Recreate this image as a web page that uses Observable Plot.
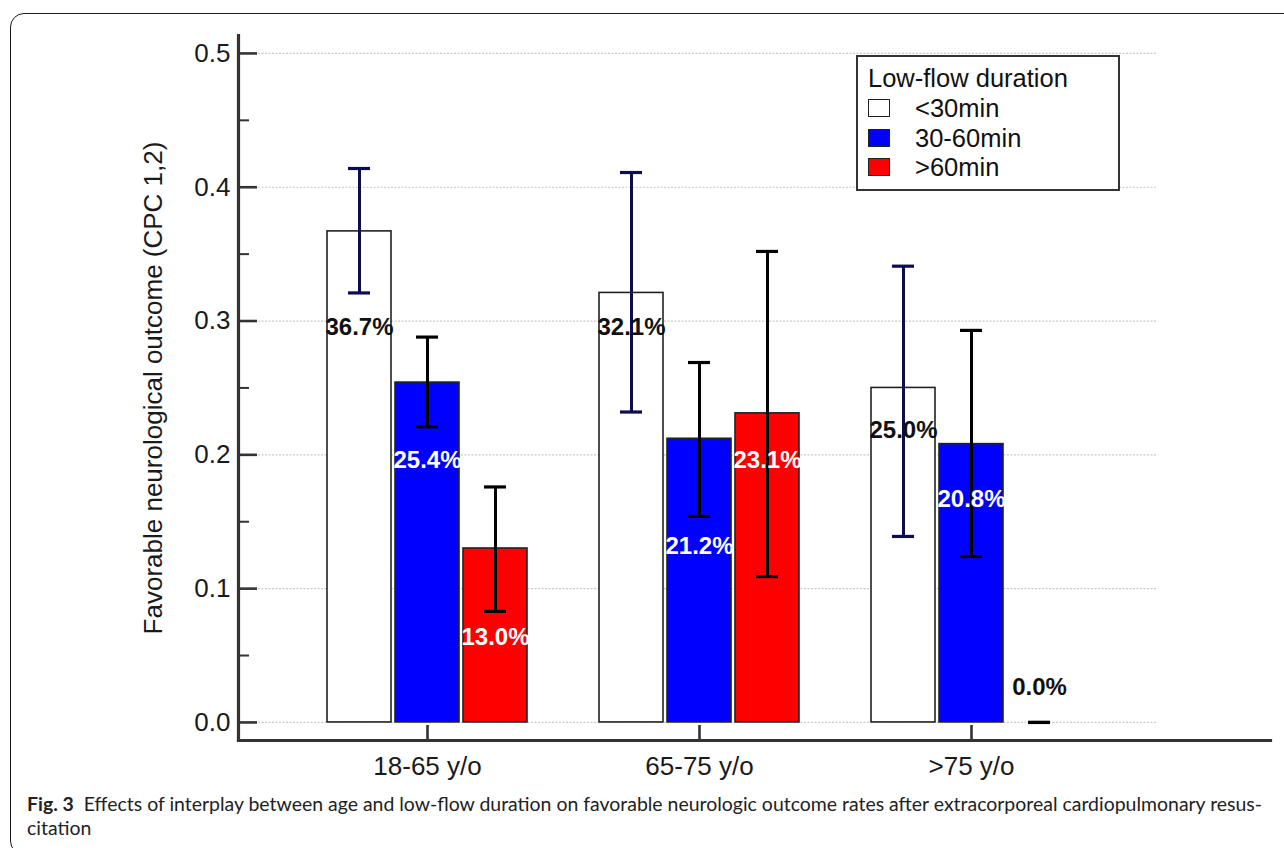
<!DOCTYPE html>
<html><head><meta charset="utf-8">
<script src="https://cdn.jsdelivr.net/npm/d3@7"></script>
<script src="https://cdn.jsdelivr.net/npm/@observablehq/plot@0.6"></script>
<style>
body{margin:0;background:#fff;}
#wrap{position:relative;width:1284px;height:848px;overflow:hidden;font-family:"Liberation Sans",Arial,sans-serif;color:#111;}
#chart{position:absolute;left:0;top:0;}
#frame{position:absolute;left:10px;top:13px;width:1300px;height:842px;border:1.5px solid #1a1a1a;border-radius:14px;box-sizing:border-box;pointer-events:none;}
#legend{position:absolute;left:856px;top:55px;width:264px;height:136px;border:2.5px solid #333;box-sizing:border-box;background:#fff;font-size:25.5px;}
#legend .title{position:absolute;left:10px;top:7px;line-height:28px;white-space:nowrap;}
#legend .row{position:absolute;left:10px;height:20px;white-space:nowrap;}
#legend .sw{position:absolute;left:0;top:0;width:22px;height:18px;border:1.5px solid #222;box-sizing:border-box;}
#legend .lab{position:absolute;left:47px;top:-5px;line-height:28px;}
#caption{position:absolute;left:27px;top:792px;font-family:Lato,"Open Sans",sans-serif;font-size:19.5px;line-height:24px;color:#222;}
#caption div{white-space:nowrap;transform-origin:0 0;height:24px;}
</style>
</head><body>
<div id="wrap">
  <div id="chart"></div>
  <div id="legend"></div>
  <div id="caption"></div>
  <div id="frame"></div>
</div>
<script>
// ---- data ----
const groups = ["18-65 y/o", "65-75 y/o", ">75 y/o"];
const durations = ["<30min", "30-60min", ">60min"];
const rateLt30 = [0.367, 0.321, 0.250];
const rate30to60 = [0.254, 0.212, 0.208];
const rateGt60 = [0.130, 0.231, 0.000];
const ciLowLt30 = [0.321, 0.232, 0.139];
const ciHighLt30 = [0.414, 0.411, 0.341];
const ciLow30to60 = [0.221, 0.154, 0.124];
const ciHigh30to60 = [0.288, 0.269, 0.293];
const ciLowGt60 = [0.083, 0.109, 0.000];
const ciHighGt60 = [0.176, 0.352, 0.000];
// where each percentage label sits (data units of the y axis)
const labelAtLt30 = [0.2955, 0.2955, 0.218];
const labelAt30to60 = [0.196, 0.1315, 0.167];
const labelAtGt60 = [0.0633, 0.196, 0.026];
const yTicks = [0, 0.1, 0.2, 0.3, 0.4, 0.5];
const yMinorTicks = [0.05, 0.15, 0.25, 0.35, 0.45];
const yTitle = "Favorable neurological outcome (CPC 1,2)";
const legendTitle = "Low-flow duration";
const captionBold = "Fig. 3";
const captionLine1 = "Effects of interplay between age and low-flow duration on favorable neurologic outcome rates after extracorporeal cardiopulmonary resus-";
const captionLine2 = "citation";

// ---- styles ----
const fillOf = {"<30min": "#ffffff", "30-60min": "#0000ff", ">60min": "#ff0000"};
const errColorOf = {"<30min": "#0c0c4e", "30-60min": "#000000", ">60min": "#000000"};

const rates = [rateLt30, rate30to60, rateGt60];
const lows = [ciLowLt30, ciLow30to60, ciLowGt60];
const highs = [ciHighLt30, ciHigh30to60, ciHighGt60];
const labelAts = [labelAtLt30, labelAt30to60, labelAtGt60];

const slots = [];
groups.forEach((g, i) => {
  durations.forEach(d => slots.push(g + "|" + d));
  if (i < groups.length - 1) slots.push("gap" + i);
});
const rows = [];
groups.forEach((g, i) => durations.forEach((d, j) => rows.push({
  group: g, dur: d, slot: g + "|" + d,
  value: rates[j][i], lo: lows[j][i], hi: highs[j][i], labelY: labelAts[j][i]
})));

const chart = Plot.plot({
  width: 1284, height: 785,
  marginLeft: 238, marginRight: 14, marginTop: 35, marginBottom: 45,
  style: {fontFamily: "Liberation Sans, Arial, sans-serif", fontSize: "26px", background: "transparent", color: "#1a1a1a"},
  x: {type: "band", domain: slots, range: [326, 1071], paddingInner: 0.06, paddingOuter: 0, axis: null},
  y: {domain: [-0.0135, 0.5134], axis: null},
  marks: [
    Plot.ruleY(yTicks, {stroke: "#c8c8c8", strokeWidth: 1.2, strokeDasharray: "2,1.5", insetLeft: 20, insetRight: 113}),
    Plot.barY(rows, {x: "slot", y1: 0, y2: "value", fill: d => fillOf[d.dur], stroke: "#222", strokeWidth: 1.6}),
    Plot.ruleX(rows, {x: "slot", y1: "lo", y2: "hi", stroke: d => errColorOf[d.dur], strokeWidth: 3}),
    Plot.tickY(rows, {x: "slot", y: "lo", stroke: d => errColorOf[d.dur], strokeWidth: 3.2, insetLeft: 21, insetRight: 21}),
    Plot.tickY(rows, {x: "slot", y: "hi", stroke: d => errColorOf[d.dur], strokeWidth: 3.2, insetLeft: 21, insetRight: 21}),
    Plot.text(rows, {x: "slot", y: "labelY", text: d => (d.value * 100).toFixed(1) + "%",
      fill: d => (d.dur === "<30min" || d.value === 0) ? "#111" : "#ffffff",
      fontWeight: "bold", fontSize: 24}),
    Plot.axisY({ticks: yTicks, tickSize: -19, tickPadding: 27, tickFormat: d3.format(".1f"),
      stroke: "#333", strokeWidth: 2.6, fontSize: 26, label: yTitle, labelAnchor: "center", labelOffset: 95, labelArrow: "none"}),
    Plot.axisY({ticks: yMinorTicks, tickSize: -11, tickFormat: () => "", stroke: "#333", strokeWidth: 2, label: null}),
    Plot.axisX({ticks: groups.map(g => g + "|30-60min"), tickSize: -15, tickPadding: 31,
      tickFormat: d => d.split("|")[0], stroke: "#333", strokeWidth: 2.6, fontSize: 26, label: null}),
    Plot.frame({anchor: "left", stroke: "#333", strokeWidth: 3.2}),
    Plot.frame({anchor: "bottom", stroke: "#333", strokeWidth: 3.2})
  ]
});
document.getElementById("chart").appendChild(chart);

// legend
const legend = document.getElementById("legend");
legend.innerHTML = `<div class="title">${legendTitle}</div>` +
  durations.map((d, i) => `<div class="row" style="top:${42 + i * 29.5}px"><div class="sw" style="background:${fillOf[d]}"></div><div class="lab">${d.replace("<", "&lt;").replace(">", "&gt;")}</div></div>`).join("");

// caption
const cap = document.getElementById("caption");
const l1 = document.createElement("div");
l1.innerHTML = `<b style="font-weight:700">${captionBold}</b>&nbsp;&nbsp;${captionLine1}`;
const l2 = document.createElement("div");
l2.textContent = captionLine2;
const measure = document.createElement("span");
measure.style.whiteSpace = "nowrap";
measure.innerHTML = l1.innerHTML;
cap.appendChild(measure);
const w = measure.getBoundingClientRect().width;
cap.removeChild(measure);
const s = 1235 / w;
cap.appendChild(l1); cap.appendChild(l2);
l1.style.transform = `scaleX(${s})`;
l2.style.transform = `scaleX(${s})`;
</script>
</body></html>
